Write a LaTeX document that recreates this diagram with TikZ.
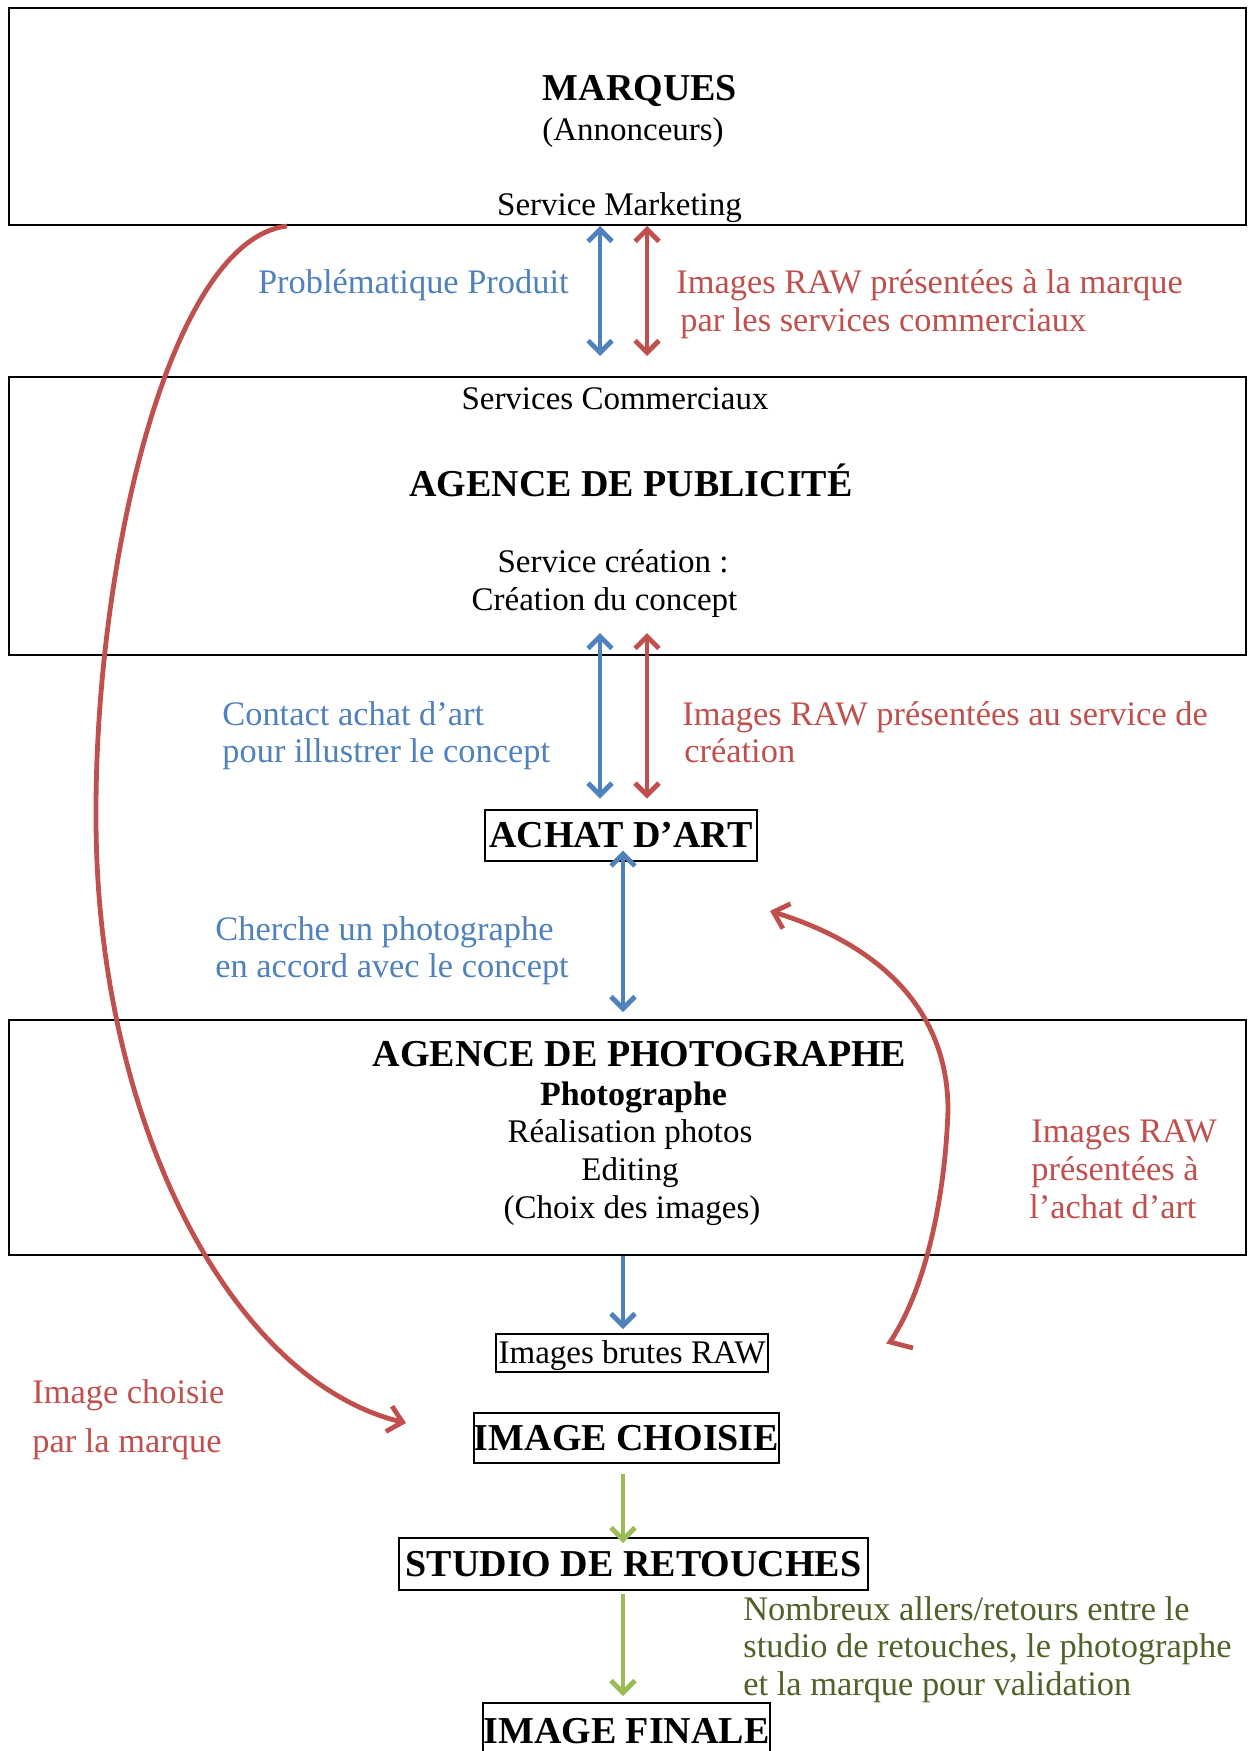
\documentclass[tikz,border=0pt]{standalone}
\usepackage{fontspec}
\setmainfont{Liberation Serif}
\usetikzlibrary{arrows.meta}
\definecolor{blueA}{RGB}{79,129,189}
\definecolor{redA}{RGB}{192,80,77}
\definecolor{greenA}{RGB}{155,187,89}
\definecolor{greenT}{RGB}{79,98,40}
\begin{document}
\begin{tikzpicture}[x=0.5pt,y=-0.5pt,
  >={Straight Barb[length=6pt,width=12pt]},
  bigbox/.style={draw, line width=1pt, minimum width=618.5pt, inner sep=0pt},
  smallbox/.style={draw, line width=1pt, inner sep=0pt, font=\fontsize{19}{23}\selectfont\bfseries, text height=12.6pt, text depth=0pt},
  rawbox/.style={draw, line width=1pt, inner sep=0pt, font=\fontsize{16.5}{19}\selectfont, text height=10.9pt, text depth=0pt},
  reg/.style={font=\fontsize{16.5}{19}\selectfont, inner sep=0pt, anchor=base},
  lab/.style={font=\fontsize{17.2}{19}\selectfont, inner sep=0pt, anchor=base west},
  head/.style={font=\fontsize{19}{23}\selectfont\bfseries, inner sep=0pt, anchor=base},
  subhead/.style={font=\fontsize{17}{20}\selectfont\bfseries, inner sep=0pt, anchor=base},
  barr/.style={draw=blueA, line width=2.4pt, <->},
  rarr/.style={draw=redA, line width=2.4pt, <->},
  barr1/.style={draw=blueA, line width=2.4pt, ->},
  garr/.style={draw=greenA, line width=2.4pt, ->},
  rcurve/.style={draw=redA, line width=2.4pt, -{Straight Barb[length=7pt,width=13pt]}},
]
\useasboundingbox (0,0) rectangle (1249,1751);
\clip (0,0) rectangle (1249,1751);
\fill[white] (0,0) rectangle (1249,1751);

% big boxes
\node[bigbox, minimum height=108.5pt] (marques) at (627.5,116.5) {};
\node[bigbox, minimum height=139pt] (pub) at (627.5,516) {};
\node[bigbox, minimum height=117.5pt] (photo) at (627.5,1137.5) {};

% texts of MARQUES box
\node[head] (tmarques) at (640,100) {MARQUES};
\node[reg] (tannon) at (633,140) {(Annonceurs)};
\node[reg] (tmarket) at (619.5,215) {Service Marketing};

% texts of agence de publicite
\node[reg] (tcomm) at (615,409) {Services Commerciaux};
\node[head] (tpub) at (631,496) {AGENCE DE PUBLICITÉ};
\node[reg] (tcrea1) at (613,572) {Service création :};
\node[reg] (tcrea2) at (604.5,610) {Création du concept};

% texts of agence de photographe
\node[head] (tphoto) at (639.5,1066) {AGENCE DE PHOTOGRAPHE};
\node[subhead] (tphotog) at (633.5,1105) {Photographe};
\node[reg] (treal) at (630,1142) {Réalisation photos};
\node[reg] (tedit) at (630,1180) {Editing};
\node[reg] (tchoix) at (632,1218) {(Choix des images)};

% small boxes
\node[smallbox, minimum width=136pt, minimum height=25.5pt] (achat) at (621,835) {ACHAT D’ART};
\node[rawbox, minimum width=136pt, minimum height=19pt] (raw) at (632,1353) {Images brutes RAW};
\node[smallbox, minimum width=150.5pt, minimum height=25pt] (choisie) at (626.5,1437.5) {IMAGE CHOISIE};
\node[smallbox, minimum width=234.5pt, minimum height=26pt] (studio) at (633.5,1564) {STUDIO DE RETOUCHES};
\node[smallbox, minimum width=141.5pt, minimum height=28pt] (finale) at (626.5,1731) {IMAGE FINALE};

% x positions of the straight connectors
\coordinate (xb) at (600,0);
\coordinate (xr) at (647,0);
\coordinate (xc) at (623,0);

% straight connectors
\draw[barr, shorten >=10pt] (marques.south -| xb) -- (pub.north -| xb);
\draw[rarr, shorten >=10pt] (marques.south -| xr) -- (pub.north -| xr);
\draw[barr, shorten <=-11.5pt, shorten >=5pt] (pub.south -| xb) -- (achat.north -| xb);
\draw[rarr, shorten <=-11.5pt, shorten >=5pt] (pub.south -| xr) -- (achat.north -| xr);
\draw[barr, shorten <=-5.5pt, shorten >=3.5pt] (achat.south -| xc) -- (photo.north -| xc);
\draw[barr1, shorten >=2pt] (photo.south -| xc) -- (raw.north -| xc);
\draw[garr, shorten <=5pt, shorten >=-3pt] (choisie.south -| xc) -- (studio.north -| xc);
\draw[garr, shorten <=1.5pt, shorten >=3pt] (studio.south -| xc) -- (finale.north -| xc);

% labels of connectors
\node[lab, anchor=base east, text=blueA] (lprob) at (569,293) {Problématique Produit};
\node[lab, text=redA] (lraw1a) at (676,293) {Images RAW présentées à la marque};
\node[lab, text=redA] (lraw1b) at (680,331) {par les services commerciaux};
\node[lab, text=blueA] (lcont1) at (222,725) {Contact achat d’art};
\node[lab, text=blueA] (lcont2) at (222,762) {pour illustrer le concept};
\node[lab, text=redA] (lraw2a) at (682,725) {Images RAW présentées au service de};
\node[lab, text=redA] (lraw2b) at (684,762) {création};
\node[lab, text=blueA] (lcher1) at (215,940) {Cherche un photographe};
\node[lab, text=blueA] (lcher2) at (215,977) {en accord avec le concept};
\node[lab, text=redA] (lraw3a) at (1031,1142) {Images RAW};
\node[lab, text=redA] (lraw3b) at (1031,1180) {présentées à};
\node[lab, text=redA] (lraw3c) at (1029,1218) {l’achat d’art};
\node[lab, text=redA] (lchoi1) at (32,1403) {Image choisie};
\node[lab, text=redA] (lchoi2) at (32,1452) {par la marque};
\node[lab, text=greenT] (lnomb1) at (743,1620) {Nombreux allers/retours entre le};
\node[lab, text=greenT] (lnomb2) at (743,1657) {studio de retouches, le photographe};
\node[lab, text=greenT] (lnomb3) at (743,1695) {et la marque pour validation};

% curved connectors
\coordinate (lx) at (287,0);
\coordinate (lend) at (406,1423);
\draw[rcurve] (marques.south -| lx) .. controls (170,240) and (95,560) .. (96,817)
   .. controls (96,1120) and (230,1380) .. (lend);

\coordinate (rstart) at (913,1348);
\coordinate (rend) at (770,911);
\draw[rcurve, line join=miter] (rstart) -- (890,1342) .. controls (925,1290) and (945,1200) .. (948,1110)
   .. controls (948,1010) and (880,945) .. (rend);
\end{tikzpicture}
\end{document}
